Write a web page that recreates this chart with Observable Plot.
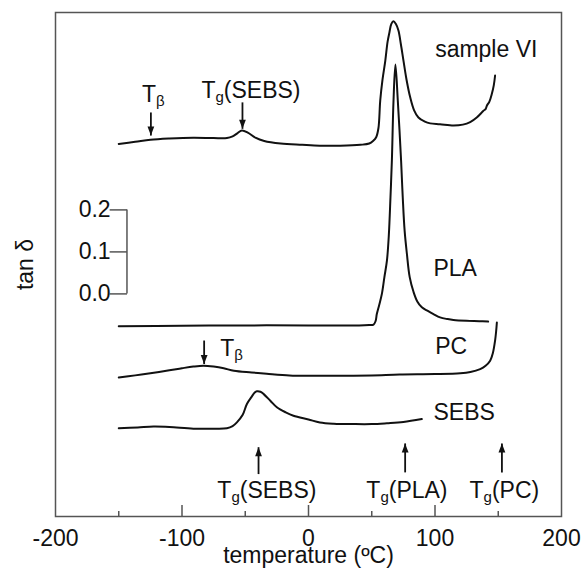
<!DOCTYPE html>
<html>
<head>
<meta charset="utf-8">
<script src="https://cdn.jsdelivr.net/npm/d3@7"></script>
<script src="https://cdn.jsdelivr.net/npm/@observablehq/plot@0.6"></script>
<style>
  html, body { margin: 0; padding: 0; background: #fff; }
  #chart { width: 582px; height: 568px; overflow: hidden; }
</style>
</head>
<body>
<div id="chart"></div>
<script>
// ---- data (temperature °C, tan δ on the offset chart scale) ----
const sampleVI = [
  [-150, 0.357], [-137, 0.362], [-125, 0.367], [-110, 0.370], [-91, 0.372], [-75, 0.371],
  [-64.5, 0.371], [-60, 0.375], [-56, 0.383], [-52.6, 0.389], [-48, 0.384], [-42, 0.372],
  [-35, 0.364], [-22, 0.358], [-5, 0.355], [9, 0.353], [25, 0.353], [41, 0.355], [48, 0.358],
  [51, 0.364], [53.5, 0.373], [55.3, 0.395], [56.7, 0.46], [58.5, 0.51], [60.7, 0.555],
  [62.5, 0.6], [64, 0.623], [65.5, 0.643], [67.2, 0.649], [69, 0.643], [71.1, 0.627],
  [73, 0.595], [75.1, 0.555], [77.5, 0.51], [80.4, 0.468], [83.5, 0.437], [86.9, 0.420],
  [92, 0.410], [96.2, 0.406], [104, 0.404], [114.6, 0.401], [122, 0.403], [127.8, 0.409],
  [133, 0.420], [138.3, 0.436], [140, 0.440], [141, 0.448], [143, 0.458], [144.9, 0.476],
  [146.5, 0.497], [147.5, 0.520]
];
const pla = [
  [-150, -0.077], [-100, -0.076], [-50, -0.075], [0, -0.075], [40, -0.075], [48, -0.074],
  [51.4, -0.073], [53, -0.065], [54, -0.048], [56, -0.025], [58, 0.0], [60, 0.04], [62, 0.079],
  [63.5, 0.14], [64.8, 0.23], [65.9, 0.317], [67.2, 0.46], [68.7, 0.546], [70.6, 0.46],
  [73.2, 0.317], [74.5, 0.23], [76, 0.15], [77.8, 0.095], [80, 0.04], [83, 0.005],
  [86, -0.018], [89.6, -0.032], [94, -0.040], [98.8, -0.048], [104, -0.056], [110, -0.060],
  [114.6, -0.062], [125, -0.064], [135, -0.065], [142, -0.066]
];
const pc = [
  [-150, -0.199], [-137, -0.194], [-125, -0.189], [-110, -0.182], [-100, -0.177], [-91, -0.173],
  [-83, -0.171], [-75, -0.173], [-67, -0.177], [-59, -0.183], [-45, -0.187], [-33, -0.190],
  [-15, -0.194], [0, -0.195], [20, -0.195], [50, -0.194], [72, -0.192], [100, -0.191],
  [120, -0.189], [128, -0.186], [135.7, -0.179], [140, -0.171], [143.6, -0.159],
  [145.8, -0.140], [147.5, -0.111], [148.3, -0.090], [148.9, -0.068]
];
const sebs = [
  [-150, -0.320], [-135, -0.318], [-122.5, -0.316], [-110, -0.317], [-91, -0.321], [-75, -0.321],
  [-64.5, -0.320], [-60, -0.315], [-56.6, -0.306], [-52, -0.288], [-48.7, -0.262], [-45, -0.245],
  [-42.5, -0.235], [-40.8, -0.232], [-38, -0.233], [-35.6, -0.238], [-30, -0.255], [-25, -0.270],
  [-18, -0.282], [-11.9, -0.290], [0, -0.299], [9, -0.306], [20, -0.309], [35.6, -0.310],
  [50, -0.310], [62, -0.308], [75, -0.305], [89.6, -0.298]
];
const seriesNames = ["sample VI", "PLA", "PC", "SEBS"];
const seriesData = [sampleVI, pla, pc, sebs];

// curve labels (left edge, baseline)
const curveLabels = [
  { text: "sample VI", t: 100.1, v: 0.563 },
  { text: "PLA", t: 98.8, v: 0.0436 },
  { text: "PC", t: 100.1, v: -0.143 },
  { text: "SEBS", t: 98.8, v: -0.300 }
];
// transition labels ("_" marks a subscript)
const betaLabels = [
  { text: "T_β", t: -131.6, v: 0.456 },
  { text: "T_β", t: -69.8, v: -0.149 }
];
const tgLabels = [
  { text: "T_g(SEBS)", t: -45.5, v: 0.466 },
  { text: "T_g(SEBS)", t: -32.9, v: -0.486 },
  { text: "T_g(PLA)", t: 77.8, v: -0.486 },
  { text: "T_g(PC)", t: 154.8, v: -0.486 }
];
// arrows: tail -> tip
const arrowsDown = [
  { t: -124.6, tail: 0.432, tip: 0.377 },
  { t: -52.2, tail: 0.456, tip: 0.393 },
  { t: -82.5, tail: -0.111, tip: -0.167 }
];
const arrowsUp = [
  { t: -39.5, tail: -0.429, tip: -0.365 },
  { t: 76.4, tail: -0.425, tip: -0.356 },
  { t: 152.9, tail: -0.425, tip: -0.356 }
];
// scale bar
const scaleTicks = [0.0, 0.1, 0.2];
const scaleBarT = -143.5;
const scaleTickStartT = -157.2;

// axis ticks
const xLabelTicks = [-200, -100, 0, 100, 200];
const xMajorTicks = [-100, 0, 100];
const xMinorTicks = [-150, -50, 50, 150];

const rows = seriesData.flatMap((pts, i) => pts.map(([t, v]) => ({ series: seriesNames[i], t, v })));

const font = '"Liberation Sans", Arial, Helvetica, sans-serif';
const ink = "#111";
const frameGrey = "#555";
const fs = 23;

const W = 582, H = 568, mT = 12, mB = 52;
const frameH = H - mT - mB;
const majorLen = 11, minorLen = 5;

const arrowHead = {
  draw(ctx) {
    ctx.moveTo(0, 0);
    ctx.lineTo(-3.4, -9);
    ctx.lineTo(3.4, -9);
    ctx.closePath();
  }
};

const plot = Plot.plot({
  width: W,
  height: H,
  marginLeft: 55,
  marginRight: 21,
  marginTop: mT,
  marginBottom: mB,
  style: { fontFamily: font, fontSize: fs + "px", color: ink, background: "#fff", overflow: "visible" },
  x: { domain: [-200, 200] },
  y: { domain: [-0.53, 0.67], axis: null },
  marks: [
    Plot.axisX({ ticks: xLabelTicks, tickSize: 0, tickPadding: 13, fontSize: fs, label: null, tickFormat: d => String(d) }),
    Plot.ruleX(xMajorTicks, { x: d => d, insetTop: frameH - majorLen, stroke: frameGrey, strokeWidth: 1.5 }),
    Plot.ruleX(xMinorTicks, { x: d => d, insetTop: frameH - minorLen, stroke: frameGrey, strokeWidth: 1.5 }),
    Plot.frame({ stroke: frameGrey, strokeWidth: 1.5 }),
    Plot.text(["temperature (ºC)"], { frameAnchor: "bottom", textAnchor: "middle", dy: 46, lineAnchor: "bottom", fontSize: fs, fill: ink }),
    Plot.text(["tan δ"], { frameAnchor: "left", textAnchor: "middle", dx: -30, rotate: -90, lineAnchor: "middle", fontSize: fs, fill: ink }),
    // scale bar
    Plot.ruleX([scaleBarT], { x: d => d, y1: scaleTicks[0], y2: scaleTicks[scaleTicks.length - 1], stroke: frameGrey, strokeWidth: 1.5 }),
    Plot.link(scaleTicks, { x1: scaleTickStartT, x2: scaleBarT, y1: d => d, y2: d => d, stroke: frameGrey, strokeWidth: 1.5 }),
    Plot.text(scaleTicks, { x: scaleTickStartT, y: d => d, text: d => d.toFixed(1), textAnchor: "end", lineAnchor: "middle", dx: 1, fontSize: fs, fill: ink }),
    // curves
    Plot.line(rows, { x: "t", y: "v", z: "series", stroke: ink, strokeWidth: 2, curve: "catmull-rom" }),
    // arrows
    Plot.link(arrowsDown, { x1: "t", x2: "t", y1: "tail", y2: "tip", stroke: ink, strokeWidth: 1.8 }),
    Plot.dot(arrowsDown, { x: "t", y: "tip", symbol: arrowHead, fill: ink, stroke: "none" }),
    Plot.link(arrowsUp, { x1: "t", x2: "t", y1: "tail", y2: "tip", stroke: ink, strokeWidth: 1.8 }),
    Plot.dot(arrowsUp, { x: "t", y: "tip", symbol: arrowHead, rotate: 180, fill: ink, stroke: "none" }),
    // labels
    Plot.text(curveLabels, { x: "t", y: "v", text: "text", textAnchor: "start", lineAnchor: "bottom", fontSize: fs, fill: ink }),
    Plot.text(betaLabels, { x: "t", y: "v", text: "text", textAnchor: "start", lineAnchor: "bottom", fontSize: fs, fill: ink }),
    Plot.text(tgLabels, { x: "t", y: "v", text: "text", textAnchor: "middle", lineAnchor: "bottom", fontSize: fs, fill: ink })
  ]
});

// render subscripts marked with "_"
d3.select(plot).selectAll("text").each(function () {
  if (this.querySelector("tspan")) return;
  const s = this.textContent;
  const m = s.match(/^(.*?)_(.)(.*)$/);
  if (!m) return;
  const el = d3.select(this);
  el.text(null);
  el.append("tspan").text(m[1]);
  el.append("tspan").attr("font-size", "15px").attr("dy", "4px").text(m[2]);
  if (m[3]) el.append("tspan").attr("dy", "-4px").text(m[3]);
});

document.getElementById("chart").appendChild(plot);
</script>
</body>
</html>
